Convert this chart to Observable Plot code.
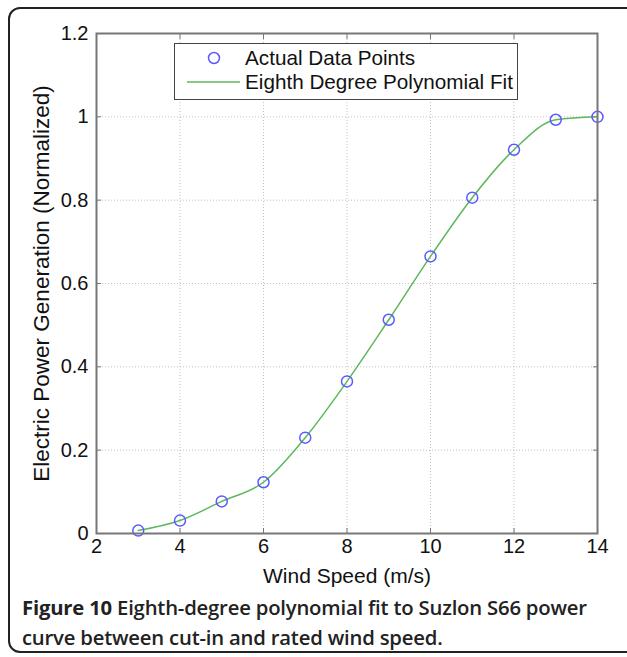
<!DOCTYPE html>
<html>
<head>
<meta charset="utf-8">
<script src="https://cdn.jsdelivr.net/npm/d3@7"></script>
<script src="https://cdn.jsdelivr.net/npm/@observablehq/plot@0.6"></script>
<style>
  html, body { margin: 0; padding: 0; background: #fff; width: 627px; height: 657px; overflow: hidden; position: relative; }
  #box { position: absolute; left: 8px; top: 7px; width: 700px; height: 646px; border: 2px solid #222; border-radius: 12px; box-sizing: border-box; }
  #chart { position: absolute; left: 0; top: 0; }
  #legend { position: absolute; left: 174px; top: 43px; width: 344px; height: 57px; border: 1.5px solid #444; background: #fff; box-sizing: border-box; font-family: "Liberation Sans", Arial, sans-serif; font-size: 20.7px; color: #111; }
  #legend .row { position: absolute; left: 0; height: 24px; display: flex; align-items: center; white-space: nowrap; }
  #legend svg { display: block; }
  #caption { position: absolute; left: 22px; top: 592px; width: 610px; font-family: "Open Sans", sans-serif; font-size: 20.3px; line-height: 30px; color: #222; font-weight: 600; letter-spacing: -0.2px; }
  #caption b { font-weight: 700; }
</style>
</head>
<body>
<div id="box"></div>
<div id="chart"></div>
<div id="legend"></div>
<div id="caption"><b>Figure 10</b> Eighth-degree polynomial fit to Suzlon S66 power<br>curve between cut-in and rated wind speed.</div>
<script>
// Data
const windSpeed = [3, 4, 5, 6, 7, 8, 9, 10, 11, 12, 13, 14];
const powerNorm = [0.007, 0.031, 0.077, 0.123, 0.230, 0.365, 0.513, 0.665, 0.806, 0.921, 0.993, 1.0];
const xTicks = [2, 4, 6, 8, 10, 12, 14];
const yTicks = [0, 0.2, 0.4, 0.6, 0.8, 1, 1.2];
const yTickLabels = ["0", "0.2", "0.4", "0.6", "0.8", "1", "1.2"];
const seriesNames = ["Actual Data Points", "Eighth Degree Polynomial Fit"];
const xLabel = "Wind Speed (m/s)";
const yLabel = "Electric Power Generation (Normalized)";

const pointColor = "#5a5aff";
const lineColor = "#5cb85c";

const data = windSpeed.map((x, i) => ({x, y: powerNorm[i]}));

const chart = Plot.plot({
  width: 627,
  height: 600,
  marginLeft: 96,
  marginRight: 30,
  marginTop: 33,
  marginBottom: 67,
  style: {fontFamily: "'Liberation Sans', Arial, sans-serif", fontSize: "20px", color: "#222", background: "transparent"},
  x: {domain: [2, 14]},
  y: {domain: [0, 1.2]},
  marks: [
    Plot.gridX(xTicks, {stroke: "#999", strokeOpacity: 0.6, strokeDasharray: "1,2"}),
    Plot.gridY(yTicks, {stroke: "#999", strokeOpacity: 0.6, strokeDasharray: "1,2"}),
    // inward ticks on all four sides
    Plot.axisX(xTicks, {anchor: "bottom", tickSize: -5, tickFormat: () => "", label: null, stroke: "#777"}),
    Plot.axisX(xTicks, {anchor: "top", tickSize: -5, tickFormat: () => "", label: null, stroke: "#777"}),
    Plot.axisY(yTicks, {anchor: "left", tickSize: -5, tickFormat: () => "", label: null, stroke: "#777"}),
    Plot.axisY(yTicks, {anchor: "right", tickSize: -5, tickFormat: () => "", label: null, stroke: "#777"}),
    // tick labels
    Plot.axisX(xTicks, {anchor: "bottom", tickSize: 0, tickPadding: 5, label: null, fontSize: 20, fill: "#111"}),
    Plot.axisY(yTicks, {anchor: "left", tickSize: 0, tickPadding: 8, tickFormat: (d, i) => yTickLabels[i], label: null, fontSize: 20, fill: "#111"}),
    // axis titles
    Plot.axisX({anchor: "bottom", ticks: [], label: xLabel, labelAnchor: "center", labelArrow: "none", labelOffset: 49, fontSize: 21, fill: "#111"}),
    Plot.axisY({anchor: "left", ticks: [], label: yLabel, labelAnchor: "center", labelArrow: "none", labelOffset: 63, fontSize: 22.5, fill: "#111"}),
    Plot.line(data, {x: "x", y: "y", stroke: lineColor, strokeWidth: 1.5, curve: "monotone-x"}),
    Plot.dot(data, {x: "x", y: "y", r: 5.5, stroke: pointColor, strokeWidth: 1.5, fill: "none"}),
    Plot.frame({stroke: "#777", strokeWidth: 2})
  ]
});
document.getElementById("chart").appendChild(chart);

// legend
const legend = document.getElementById("legend");
const rows = [
  {name: seriesNames[0], top: 6, sym: `<svg width="70" height="24"><circle cx="39" cy="12" r="5.5" fill="none" stroke="${pointColor}" stroke-width="1.5"/></svg>`},
  {name: seriesNames[1], top: 30, sym: `<svg width="70" height="24"><line x1="12" x2="65" y1="12" y2="12" stroke="${lineColor}" stroke-width="1.5"/></svg>`}
];
for (const r of rows) {
  const div = document.createElement("div");
  div.className = "row";
  div.style.top = (r.top - 4) + "px";
  div.innerHTML = r.sym + `<span>${r.name}</span>`;
  legend.appendChild(div);
}
</script>
</body>
</html>
